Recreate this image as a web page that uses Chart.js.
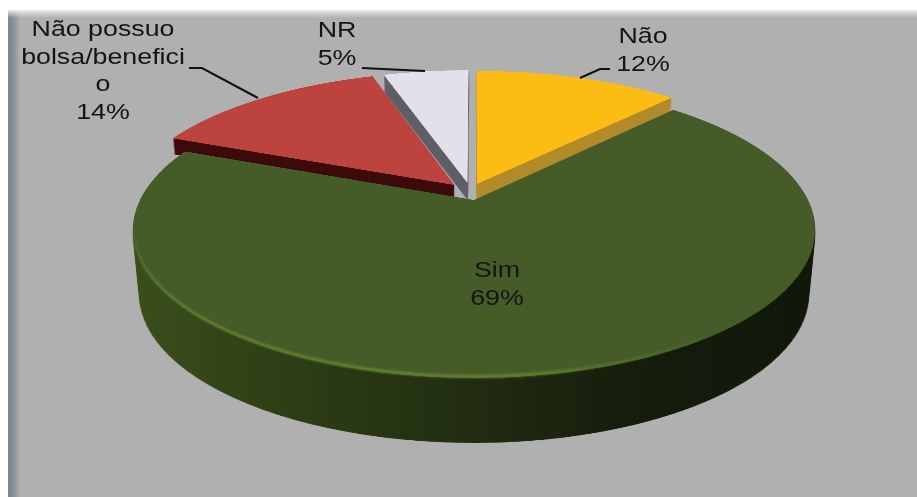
<!DOCTYPE html>
<html>
<head>
<meta charset="utf-8">
<title>Bolsa</title>
<script src="https://cdn.jsdelivr.net/npm/chart.js@4/dist/chart.umd.min.js"></script>
<style>
    html, body { margin: 0; padding: 0; background: #fff; overflow: hidden; }
    #panel {
        position: absolute; left: 8px; top: 10px; width: 909px; height: 487px;
        background:
            linear-gradient(to bottom, rgba(235,235,235,1), rgba(176,176,176,0) 8px),
            linear-gradient(to right, rgba(122,136,144,1) 0, rgba(130,140,146,1) 4px, rgba(176,176,176,0) 12px),
            #b0b0b0;
    }
    #chart { position: absolute; left: 0; top: 0; }
</style>
</head>
<body>
<div id="panel"></div>
<canvas id="chart" width="917" height="497"></canvas>
<script>
const categories = ['Não', 'Sim', 'Não possuo bolsa/beneficio', 'NR'];
const values = [12, 69, 14, 5];
const labelLines = [['Não'], ['Sim'], ['Não possuo', 'bolsa/benefici', 'o'], ['NR']];
const topColors = ['#fbbc14', '#465c28', '#bd433e', '#e4e0ea'];

// perspective of the pie plane
const view = { cx: 474, cy: 200, S: 334, H: 141.9, k: 0.2026 };
// slice shift on the flat pie (fraction of the radius) and wall height in px
const sliceShift = [[0.009, -0.1154], [0, 0], [-0.06, -0.1082], [-0.02, -0.1224]];
const wallDepth = [18, 65, 16, 17];
const wallColors = ['#b38a2a', null, '#3c0a0a', '#5e5e68'];
const drawOrder = [2, 3, 0, 1];

const labelPos = [[643, 43], [497, 277], [103, 36], [337, 37]];
const leaders = [
    [[580, 78], [600, 69], [610, 69]],
    null,
    [[189, 68], [202, 68], [258, 98]],
    [[362, 68], [425, 71]]
];

const W = 917, FH = 497, SRC = 1400, SRC_R = 500;

function newCanvas(w, h) {
    const c = document.createElement('canvas');
    c.width = w;
    c.height = h;
    return c;
}

// copy the flat pie onto the tilted plane, one row at a time
function warp(src, dst) {
    const { cx, cy, S, H, k } = view;
    for (let y = 0; y < FH; y++) {
        const d = y + 0.5 - cy;
        const den = H + k * d;
        if (den <= 0) continue;
        const t = d / den;
        if (Math.abs(t) > 1.38) continue;
        const w = 1 - k * t;
        const srcH = Math.max(1, H / (den * den) * SRC_R);
        const destW = (SRC / SRC_R) * S / w;
        dst.drawImage(src, 0, SRC / 2 + t * SRC_R - srcH / 2, SRC, srcH, cx - destW / 2, y, destW, 1);
    }
}

function greenWall(ctx) {
    const g = ctx.createLinearGradient(130, 0, 820, 0);
    g.addColorStop(0, '#3b4f1c');
    g.addColorStop(0.2, '#2f4016');
    g.addColorStop(0.5, '#212c11');
    g.addColorStop(0.75, '#141c0c');
    g.addColorStop(1, '#10180a');
    return g;
}

const pie3d = {
    id: 'pie3d',
    beforeDatasetsDraw(chart) {
        const arcs = chart.getDatasetMeta(0).data;
        const scene = newCanvas(W, FH);
        const sctx = scene.getContext('2d');

        drawOrder.forEach((i) => {
            const arc = arcs[i];
            const flat = newCanvas(SRC, SRC);
            const fctx = flat.getContext('2d');
            const sc = SRC_R / arc.outerRadius;
            fctx.setTransform(sc, 0, 0, sc,
                SRC / 2 - arc.x * sc + sliceShift[i][0] * SRC_R,
                SRC / 2 - arc.y * sc + sliceShift[i][1] * SRC_R);
            arc.draw(fctx);

            const top = newCanvas(W, FH);
            const tctx = top.getContext('2d');
            warp(flat, tctx);

            // side wall: the top stacked downwards, then recoloured
            const wall = newCanvas(W, FH);
            const wctx = wall.getContext('2d');
            for (let n = wallDepth[i]; n >= 1; n--) {
                const s = 1 - n * 0.0003;
                wctx.drawImage(top, view.cx * (1 - s), n, W * s, FH);
            }
            wctx.globalCompositeOperation = 'source-in';
            wctx.fillStyle = wallColors[i] || greenWall(wctx);
            wctx.fillRect(0, 0, W, FH);
            sctx.drawImage(wall, 0, 0);
            sctx.drawImage(top, 0, 0);

            if (i === 1) {
                // light rim on the near edge of the big slice
                const rim = newCanvas(W, FH);
                const rctx = rim.getContext('2d');
                rctx.drawImage(top, 0, 0);
                rctx.globalCompositeOperation = 'source-in';
                const g = rctx.createLinearGradient(130, 0, 720, 0);
                g.addColorStop(0, 'rgba(100,135,48,0.9)');
                g.addColorStop(0.65, 'rgba(100,135,48,1)');
                g.addColorStop(1, 'rgba(100,135,48,0)');
                rctx.fillStyle = g;
                rctx.fillRect(0, 0, W, FH);
                rctx.globalCompositeOperation = 'destination-out';
                rctx.drawImage(top, 0, -3);
                sctx.save();
                sctx.filter = 'blur(1px)';
                sctx.drawImage(rim, 0, 0);
                sctx.restore();
            }
        });

        const ctx = chart.ctx;
        ctx.save();
        ctx.filter = 'blur(0.7px)';
        ctx.drawImage(scene, 0, 0);
        ctx.restore();
        return false;
    },
    afterDraw(chart) {
        const ctx = chart.ctx;
        ctx.save();
        ctx.filter = 'blur(0.4px)';
        ctx.strokeStyle = '#111';
        ctx.lineWidth = 2;
        leaders.forEach((pts) => {
            if (!pts) return;
            ctx.beginPath();
            pts.forEach((p, n) => n ? ctx.lineTo(p[0], p[1]) : ctx.moveTo(p[0], p[1]));
            ctx.stroke();
        });
        ctx.fillStyle = '#141414';
        ctx.font = '22.5px "Liberation Sans", Arial, sans-serif';
        ctx.textAlign = 'center';
        ctx.textBaseline = 'alphabetic';
        // the labels in the picture run wider than the plain font
        const stretch = 1.19;
        categories.forEach((name, i) => {
            const lines = labelLines[i].concat([values[i] + '%']);
            lines.forEach((line, n) => {
                ctx.save();
                ctx.translate(labelPos[i][0], labelPos[i][1] + n * 27.5);
                ctx.scale(stretch, 1);
                ctx.fillText(line, 0, 0);
                ctx.restore();
            });
        });
        ctx.restore();
    }
};

new Chart(document.getElementById('chart').getContext('2d'), {
    type: 'pie',
    data: {
        labels: categories,
        datasets: [{
            data: values,
            backgroundColor: topColors,
            borderWidth: 0
        }]
    },
    options: {
        responsive: false,
        animation: false,
        plugins: {
            legend: { display: false },
            tooltip: { enabled: false }
        }
    },
    plugins: [pie3d]
});
</script>
</body>
</html>
